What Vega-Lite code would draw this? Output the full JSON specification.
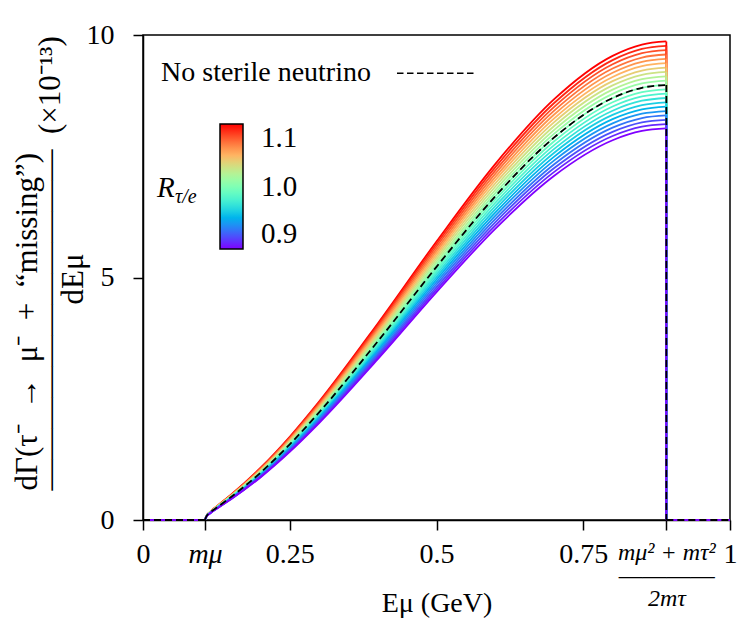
{
  "$schema": "https://vega.github.io/schema/vega-lite/v6.json",
  "width": 587,
  "height": 485,
  "autosize": {"type": "none"},
  "padding": {"left": 143, "top": 35, "right": 18, "bottom": 103},
  "background": "white",
  "config": {
    "font": "Liberation Serif, Times New Roman, serif",
    "view": {"stroke": "black", "strokeWidth": 1.5},
    "axis": {
      "domainColor": "black", "domainWidth": 1.5, "tickColor": "black", "tickWidth": 1.5, "tickSize": 10,
      "labelColor": "black", "labelFont": "Liberation Serif, Times New Roman, serif", "labelFontSize": 28, "grid": false,
      "titleFont": "Liberation Serif, Times New Roman, serif", "titleFontSize": 29, "titleFontWeight": "normal", "titleColor": "black",
      "labelFlush": false, "labelOverlap": false
    }
  },
  "datasets": {
    "curves": [
{"R":1.1,"E":0.10566,"y":0},{"R":1.1,"E":0.108,"y":0.081},{"R":1.1,"E":0.115,"y":0.174},{"R":1.1,"E":0.13,"y":0.326},{"R":1.1,"E":0.15,"y":0.522},{"R":1.1,"E":0.2,"y":1.072},{"R":1.1,"E":0.25,"y":1.716},{"R":1.1,"E":0.3,"y":2.441},{"R":1.1,"E":0.4,"y":4.053},{"R":1.1,"E":0.5,"y":5.742},{"R":1.1,"E":0.6,"y":7.338},{"R":1.1,"E":0.7,"y":8.671},{"R":1.1,"E":0.8,"y":9.57},{"R":1.1,"E":0.85,"y":9.803},{"R":1.1,"E":0.89157,"y":9.867},
{"R":1.09,"E":0.10566,"y":0},{"R":1.09,"E":0.108,"y":0.08},{"R":1.09,"E":0.115,"y":0.173},{"R":1.09,"E":0.13,"y":0.323},{"R":1.09,"E":0.15,"y":0.518},{"R":1.09,"E":0.2,"y":1.062},{"R":1.09,"E":0.25,"y":1.7},{"R":1.09,"E":0.3,"y":2.419},{"R":1.09,"E":0.4,"y":4.016},{"R":1.09,"E":0.5,"y":5.69},{"R":1.09,"E":0.6,"y":7.271},{"R":1.09,"E":0.7,"y":8.592},{"R":1.09,"E":0.8,"y":9.483},{"R":1.09,"E":0.85,"y":9.714},{"R":1.09,"E":0.89157,"y":9.777},
{"R":1.08,"E":0.10566,"y":0},{"R":1.08,"E":0.108,"y":0.079},{"R":1.08,"E":0.115,"y":0.171},{"R":1.08,"E":0.13,"y":0.32},{"R":1.08,"E":0.15,"y":0.513},{"R":1.08,"E":0.2,"y":1.052},{"R":1.08,"E":0.25,"y":1.685},{"R":1.08,"E":0.3,"y":2.396},{"R":1.08,"E":0.4,"y":3.979},{"R":1.08,"E":0.5,"y":5.638},{"R":1.08,"E":0.6,"y":7.205},{"R":1.08,"E":0.7,"y":8.513},{"R":1.08,"E":0.8,"y":9.396},{"R":1.08,"E":0.85,"y":9.625},{"R":1.08,"E":0.89157,"y":9.688},
{"R":1.07,"E":0.10566,"y":0},{"R":1.07,"E":0.108,"y":0.079},{"R":1.07,"E":0.115,"y":0.17},{"R":1.07,"E":0.13,"y":0.317},{"R":1.07,"E":0.15,"y":0.508},{"R":1.07,"E":0.2,"y":1.042},{"R":1.07,"E":0.25,"y":1.669},{"R":1.07,"E":0.3,"y":2.374},{"R":1.07,"E":0.4,"y":3.942},{"R":1.07,"E":0.5,"y":5.585},{"R":1.07,"E":0.6,"y":7.138},{"R":1.07,"E":0.7,"y":8.434},{"R":1.07,"E":0.8,"y":9.309},{"R":1.07,"E":0.85,"y":9.536},{"R":1.07,"E":0.89157,"y":9.598},
{"R":1.06,"E":0.10566,"y":0},{"R":1.06,"E":0.108,"y":0.078},{"R":1.06,"E":0.115,"y":0.168},{"R":1.06,"E":0.13,"y":0.314},{"R":1.06,"E":0.15,"y":0.503},{"R":1.06,"E":0.2,"y":1.033},{"R":1.06,"E":0.25,"y":1.653},{"R":1.06,"E":0.3,"y":2.352},{"R":1.06,"E":0.4,"y":3.906},{"R":1.06,"E":0.5,"y":5.533},{"R":1.06,"E":0.6,"y":7.071},{"R":1.06,"E":0.7,"y":8.356},{"R":1.06,"E":0.8,"y":9.222},{"R":1.06,"E":0.85,"y":9.447},{"R":1.06,"E":0.89157,"y":9.508},
{"R":1.05,"E":0.10566,"y":0},{"R":1.05,"E":0.108,"y":0.077},{"R":1.05,"E":0.115,"y":0.166},{"R":1.05,"E":0.13,"y":0.311},{"R":1.05,"E":0.15,"y":0.499},{"R":1.05,"E":0.2,"y":1.023},{"R":1.05,"E":0.25,"y":1.638},{"R":1.05,"E":0.3,"y":2.33},{"R":1.05,"E":0.4,"y":3.869},{"R":1.05,"E":0.5,"y":5.481},{"R":1.05,"E":0.6,"y":7.005},{"R":1.05,"E":0.7,"y":8.277},{"R":1.05,"E":0.8,"y":9.135},{"R":1.05,"E":0.85,"y":9.358},{"R":1.05,"E":0.89157,"y":9.419},
{"R":1.04,"E":0.10566,"y":0},{"R":1.04,"E":0.108,"y":0.076},{"R":1.04,"E":0.115,"y":0.165},{"R":1.04,"E":0.13,"y":0.308},{"R":1.04,"E":0.15,"y":0.494},{"R":1.04,"E":0.2,"y":1.013},{"R":1.04,"E":0.25,"y":1.622},{"R":1.04,"E":0.3,"y":2.308},{"R":1.04,"E":0.4,"y":3.832},{"R":1.04,"E":0.5,"y":5.429},{"R":1.04,"E":0.6,"y":6.938},{"R":1.04,"E":0.7,"y":8.198},{"R":1.04,"E":0.8,"y":9.048},{"R":1.04,"E":0.85,"y":9.268},{"R":1.04,"E":0.89157,"y":9.329},
{"R":1.03,"E":0.10566,"y":0},{"R":1.03,"E":0.108,"y":0.076},{"R":1.03,"E":0.115,"y":0.163},{"R":1.03,"E":0.13,"y":0.305},{"R":1.03,"E":0.15,"y":0.489},{"R":1.03,"E":0.2,"y":1.003},{"R":1.03,"E":0.25,"y":1.607},{"R":1.03,"E":0.3,"y":2.285},{"R":1.03,"E":0.4,"y":3.795},{"R":1.03,"E":0.5,"y":5.377},{"R":1.03,"E":0.6,"y":6.871},{"R":1.03,"E":0.7,"y":8.119},{"R":1.03,"E":0.8,"y":8.961},{"R":1.03,"E":0.85,"y":9.179},{"R":1.03,"E":0.89157,"y":9.239},
{"R":1.02,"E":0.10566,"y":0},{"R":1.02,"E":0.108,"y":0.075},{"R":1.02,"E":0.115,"y":0.162},{"R":1.02,"E":0.13,"y":0.302},{"R":1.02,"E":0.15,"y":0.484},{"R":1.02,"E":0.2,"y":0.994},{"R":1.02,"E":0.25,"y":1.591},{"R":1.02,"E":0.3,"y":2.263},{"R":1.02,"E":0.4,"y":3.758},{"R":1.02,"E":0.5,"y":5.324},{"R":1.02,"E":0.6,"y":6.804},{"R":1.02,"E":0.7,"y":8.04},{"R":1.02,"E":0.8,"y":8.874},{"R":1.02,"E":0.85,"y":9.09},{"R":1.02,"E":0.89157,"y":9.149},
{"R":1.01,"E":0.10566,"y":0},{"R":1.01,"E":0.108,"y":0.074},{"R":1.01,"E":0.115,"y":0.16},{"R":1.01,"E":0.13,"y":0.299},{"R":1.01,"E":0.15,"y":0.48},{"R":1.01,"E":0.2,"y":0.984},{"R":1.01,"E":0.25,"y":1.575},{"R":1.01,"E":0.3,"y":2.241},{"R":1.01,"E":0.4,"y":3.721},{"R":1.01,"E":0.5,"y":5.272},{"R":1.01,"E":0.6,"y":6.738},{"R":1.01,"E":0.7,"y":7.961},{"R":1.01,"E":0.8,"y":8.787},{"R":1.01,"E":0.85,"y":9.001},{"R":1.01,"E":0.89157,"y":9.06},
{"R":1.0,"E":0.10566,"y":0},{"R":1.0,"E":0.108,"y":0.074},{"R":1.0,"E":0.115,"y":0.159},{"R":1.0,"E":0.13,"y":0.296},{"R":1.0,"E":0.15,"y":0.475},{"R":1.0,"E":0.2,"y":0.974},{"R":1.0,"E":0.25,"y":1.56},{"R":1.0,"E":0.3,"y":2.219},{"R":1.0,"E":0.4,"y":3.684},{"R":1.0,"E":0.5,"y":5.22},{"R":1.0,"E":0.6,"y":6.671},{"R":1.0,"E":0.7,"y":7.883},{"R":1.0,"E":0.8,"y":8.7},{"R":1.0,"E":0.85,"y":8.912},{"R":1.0,"E":0.89157,"y":8.97},
{"R":0.99,"E":0.10566,"y":0},{"R":0.99,"E":0.108,"y":0.073},{"R":0.99,"E":0.115,"y":0.157},{"R":0.99,"E":0.13,"y":0.293},{"R":0.99,"E":0.15,"y":0.47},{"R":0.99,"E":0.2,"y":0.964},{"R":0.99,"E":0.25,"y":1.544},{"R":0.99,"E":0.3,"y":2.197},{"R":0.99,"E":0.4,"y":3.648},{"R":0.99,"E":0.5,"y":5.168},{"R":0.99,"E":0.6,"y":6.604},{"R":0.99,"E":0.7,"y":7.804},{"R":0.99,"E":0.8,"y":8.613},{"R":0.99,"E":0.85,"y":8.823},{"R":0.99,"E":0.89157,"y":8.88},
{"R":0.98,"E":0.10566,"y":0},{"R":0.98,"E":0.108,"y":0.072},{"R":0.98,"E":0.115,"y":0.155},{"R":0.98,"E":0.13,"y":0.29},{"R":0.98,"E":0.15,"y":0.465},{"R":0.98,"E":0.2,"y":0.955},{"R":0.98,"E":0.25,"y":1.529},{"R":0.98,"E":0.3,"y":2.174},{"R":0.98,"E":0.4,"y":3.611},{"R":0.98,"E":0.5,"y":5.116},{"R":0.98,"E":0.6,"y":6.538},{"R":0.98,"E":0.7,"y":7.725},{"R":0.98,"E":0.8,"y":8.526},{"R":0.98,"E":0.85,"y":8.734},{"R":0.98,"E":0.89157,"y":8.791},
{"R":0.97,"E":0.10566,"y":0},{"R":0.97,"E":0.108,"y":0.071},{"R":0.97,"E":0.115,"y":0.154},{"R":0.97,"E":0.13,"y":0.288},{"R":0.97,"E":0.15,"y":0.461},{"R":0.97,"E":0.2,"y":0.945},{"R":0.97,"E":0.25,"y":1.513},{"R":0.97,"E":0.3,"y":2.152},{"R":0.97,"E":0.4,"y":3.574},{"R":0.97,"E":0.5,"y":5.063},{"R":0.97,"E":0.6,"y":6.471},{"R":0.97,"E":0.7,"y":7.646},{"R":0.97,"E":0.8,"y":8.439},{"R":0.97,"E":0.85,"y":8.645},{"R":0.97,"E":0.89157,"y":8.701},
{"R":0.96,"E":0.10566,"y":0},{"R":0.96,"E":0.108,"y":0.071},{"R":0.96,"E":0.115,"y":0.152},{"R":0.96,"E":0.13,"y":0.285},{"R":0.96,"E":0.15,"y":0.456},{"R":0.96,"E":0.2,"y":0.935},{"R":0.96,"E":0.25,"y":1.497},{"R":0.96,"E":0.3,"y":2.13},{"R":0.96,"E":0.4,"y":3.537},{"R":0.96,"E":0.5,"y":5.011},{"R":0.96,"E":0.6,"y":6.404},{"R":0.96,"E":0.7,"y":7.567},{"R":0.96,"E":0.8,"y":8.352},{"R":0.96,"E":0.85,"y":8.555},{"R":0.96,"E":0.89157,"y":8.611},
{"R":0.95,"E":0.10566,"y":0},{"R":0.95,"E":0.108,"y":0.07},{"R":0.95,"E":0.115,"y":0.151},{"R":0.95,"E":0.13,"y":0.282},{"R":0.95,"E":0.15,"y":0.451},{"R":0.95,"E":0.2,"y":0.925},{"R":0.95,"E":0.25,"y":1.482},{"R":0.95,"E":0.3,"y":2.108},{"R":0.95,"E":0.4,"y":3.5},{"R":0.95,"E":0.5,"y":4.959},{"R":0.95,"E":0.6,"y":6.337},{"R":0.95,"E":0.7,"y":7.488},{"R":0.95,"E":0.8,"y":8.265},{"R":0.95,"E":0.85,"y":8.466},{"R":0.95,"E":0.89157,"y":8.522},
{"R":0.94,"E":0.10566,"y":0},{"R":0.94,"E":0.108,"y":0.069},{"R":0.94,"E":0.115,"y":0.149},{"R":0.94,"E":0.13,"y":0.279},{"R":0.94,"E":0.15,"y":0.446},{"R":0.94,"E":0.2,"y":0.916},{"R":0.94,"E":0.25,"y":1.466},{"R":0.94,"E":0.3,"y":2.086},{"R":0.94,"E":0.4,"y":3.463},{"R":0.94,"E":0.5,"y":4.907},{"R":0.94,"E":0.6,"y":6.271},{"R":0.94,"E":0.7,"y":7.41},{"R":0.94,"E":0.8,"y":8.178},{"R":0.94,"E":0.85,"y":8.377},{"R":0.94,"E":0.89157,"y":8.432},
{"R":0.93,"E":0.10566,"y":0},{"R":0.93,"E":0.108,"y":0.068},{"R":0.93,"E":0.115,"y":0.147},{"R":0.93,"E":0.13,"y":0.276},{"R":0.93,"E":0.15,"y":0.442},{"R":0.93,"E":0.2,"y":0.906},{"R":0.93,"E":0.25,"y":1.451},{"R":0.93,"E":0.3,"y":2.064},{"R":0.93,"E":0.4,"y":3.427},{"R":0.93,"E":0.5,"y":4.855},{"R":0.93,"E":0.6,"y":6.204},{"R":0.93,"E":0.7,"y":7.331},{"R":0.93,"E":0.8,"y":8.091},{"R":0.93,"E":0.85,"y":8.288},{"R":0.93,"E":0.89157,"y":8.342},
{"R":0.92,"E":0.10566,"y":0},{"R":0.92,"E":0.108,"y":0.068},{"R":0.92,"E":0.115,"y":0.146},{"R":0.92,"E":0.13,"y":0.273},{"R":0.92,"E":0.15,"y":0.437},{"R":0.92,"E":0.2,"y":0.896},{"R":0.92,"E":0.25,"y":1.435},{"R":0.92,"E":0.3,"y":2.041},{"R":0.92,"E":0.4,"y":3.39},{"R":0.92,"E":0.5,"y":4.802},{"R":0.92,"E":0.6,"y":6.137},{"R":0.92,"E":0.7,"y":7.252},{"R":0.92,"E":0.8,"y":8.004},{"R":0.92,"E":0.85,"y":8.199},{"R":0.92,"E":0.89157,"y":8.252},
{"R":0.91,"E":0.10566,"y":0},{"R":0.91,"E":0.108,"y":0.067},{"R":0.91,"E":0.115,"y":0.144},{"R":0.91,"E":0.13,"y":0.27},{"R":0.91,"E":0.15,"y":0.432},{"R":0.91,"E":0.2,"y":0.887},{"R":0.91,"E":0.25,"y":1.419},{"R":0.91,"E":0.3,"y":2.019},{"R":0.91,"E":0.4,"y":3.353},{"R":0.91,"E":0.5,"y":4.75},{"R":0.91,"E":0.6,"y":6.071},{"R":0.91,"E":0.7,"y":7.173},{"R":0.91,"E":0.8,"y":7.917},{"R":0.91,"E":0.85,"y":8.11},{"R":0.91,"E":0.89157,"y":8.163},
{"R":0.9,"E":0.10566,"y":0},{"R":0.9,"E":0.108,"y":0.066},{"R":0.9,"E":0.115,"y":0.143},{"R":0.9,"E":0.13,"y":0.267},{"R":0.9,"E":0.15,"y":0.427},{"R":0.9,"E":0.2,"y":0.877},{"R":0.9,"E":0.25,"y":1.404},{"R":0.9,"E":0.3,"y":1.997},{"R":0.9,"E":0.4,"y":3.316},{"R":0.9,"E":0.5,"y":4.698},{"R":0.9,"E":0.6,"y":6.004},{"R":0.9,"E":0.7,"y":7.094},{"R":0.9,"E":0.8,"y":7.83},{"R":0.9,"E":0.85,"y":8.021},{"R":0.9,"E":0.89157,"y":8.073}
    ],
    "ends": [
      {"R":1.1,"E":0.89157,"top":9.867},{"R":1.09,"E":0.89157,"top":9.777},{"R":1.08,"E":0.89157,"top":9.688},{"R":1.07,"E":0.89157,"top":9.598},{"R":1.06,"E":0.89157,"top":9.508},{"R":1.05,"E":0.89157,"top":9.419},{"R":1.04,"E":0.89157,"top":9.329},{"R":1.03,"E":0.89157,"top":9.239},{"R":1.02,"E":0.89157,"top":9.149},{"R":1.01,"E":0.89157,"top":9.06},{"R":1.0,"E":0.89157,"top":8.97},{"R":0.99,"E":0.89157,"top":8.88},{"R":0.98,"E":0.89157,"top":8.791},{"R":0.97,"E":0.89157,"top":8.701},{"R":0.96,"E":0.89157,"top":8.611},{"R":0.95,"E":0.89157,"top":8.522},{"R":0.94,"E":0.89157,"top":8.432},{"R":0.93,"E":0.89157,"top":8.342},{"R":0.92,"E":0.89157,"top":8.252},{"R":0.91,"E":0.89157,"top":8.163},{"R":0.9,"E":0.89157,"top":8.073}
    ],
    "flats": [{"a": 0, "b": 0.10566}, {"a": 0.89157, "b": 1}]
  },
  "layer": [
    {
      "data": {"name": "curves"},
      "mark": {"type": "line", "interpolate": "monotone", "strokeWidth": 1.8, "clip": true},
      "encoding": {
        "x": {
          "field": "E", "type": "quantitative",
          "scale": {"domain": [0, 1], "nice": false, "zero": false},
          "axis": {
            "values": [0, 0.10566, 0.25, 0.5, 0.75, 0.89157, 1],
            "labelExpr": "datum.value < 0.01 ? '0' : datum.value > 0.99 ? '1' : (datum.value > 0.1 && datum.value < 0.11) ? 'mμ' : (datum.value > 0.89 && datum.value < 0.9) ? ['mμ² + mτ²', '――――', '2mτ'] : datum.value < 0.3 ? '0.25' : datum.value < 0.6 ? '0.5' : '0.75'",
            "labelFontStyle": {"condition": {"test": "(datum.value > 0.1 && datum.value < 0.11) || (datum.value > 0.89 && datum.value < 0.9)", "value": "italic"}, "value": "normal"},
            "labelFontSize": {"condition": {"test": "datum.value > 0.89 && datum.value < 0.9", "value": 24}, "value": 28},
            "labelBaseline": "top",
            "labelPadding": 10,
            "labelLineHeight": 23,
            "title": "Eμ (GeV)",
            "titleFontSize": 28,
            "titleBaseline": "middle",
            "titleY": 83
          }
        },
        "y": {
          "field": "y", "type": "quantitative",
          "scale": {"domain": [0, 10], "nice": false},
          "axis": {
            "values": [0, 5, 10],
            "format": "d",
            "labelPadding": 19,
            "title": ["dΓ(τ⁻\u2002→\u2002μ⁻\u2002+\u2002“missing”)", "―――――――――――\u2002(×10⁻¹³)", "\u200b\u2003\u2003\u2003\u2003\u2003\u2003dEμ"],
            "titleFontSize": 31,
            "titleAngle": -90,
            "titleBaseline": "middle",
            "titleAlign": "left",
            "titleLineHeight": 23,
            "titleX": -116,
            "titleY": 455
          }
        },
        "color": {
          "field": "R", "type": "quantitative",
          "scale": {
            "type": "linear",
            "domain": [0.9,0.91,0.92,0.93,0.94,0.95,0.96,0.97,0.98,0.99,1.0,1.01,1.02,1.03,1.04,1.05,1.06,1.07,1.08,1.09,1.1],
            "range": ["#8000ff","#6628fe","#4d4ffc","#3374f8","#1a96f3","#00b4ec","#1acee3","#33e3d9","#4df3ce","#66fcc2","#80ffb4","#99fca6","#b3f396","#cce385","#e6ce74","#ffb462","#ff964f","#ff743c","#ff4f28","#ff2814","#ff0000"]
          },
          "legend": {
            "orient": "none", "legendX": 77, "legendY": 89, "title": null,
            "values": [0.9, 1.0, 1.1], "format": ".1f", "direction": "vertical",
            "gradientLength": 125, "gradientThickness": 23, "gradientStrokeColor": "black", "gradientStrokeWidth": 1.5,
            "labelFont": "Liberation Serif, Times New Roman, serif", "labelFontSize": 29, "labelColor": "black", "labelOffset": 18,
            "labelBaseline": "middle", "labelOverlap": false, "padding": 0
          }
        },
        "detail": {"field": "R", "type": "quantitative"}
      }
    },
    {
      "data": {"name": "ends"},
      "mark": {"type": "rule", "strokeWidth": 1.8},
      "encoding": {
        "x": {"field": "E", "type": "quantitative"},
        "y": {"field": "top", "type": "quantitative"},
        "y2": {"datum": 0},
        "color": {"field": "R", "type": "quantitative"}
      }
    },
    {
      "data": {"name": "flats"},
      "mark": {"type": "rule", "strokeWidth": 1.8, "color": "#8000ff"},
      "encoding": {
        "x": {"field": "a", "type": "quantitative"},
        "x2": {"field": "b"},
        "y": {"datum": 0}
      }
    },
    {
      "data": {"name": "curves"},
      "transform": [{"filter": "datum.R == 1"}],
      "mark": {"type": "line", "interpolate": "monotone", "strokeWidth": 1.8, "color": "black", "strokeDash": [7, 4]},
      "encoding": {
        "x": {"field": "E", "type": "quantitative"},
        "y": {"field": "y", "type": "quantitative"}
      }
    },
    {
      "data": {"name": "ends"},
      "transform": [{"filter": "datum.R == 1"}],
      "mark": {"type": "rule", "strokeWidth": 1.8, "color": "black", "strokeDash": [7, 4]},
      "encoding": {
        "x": {"field": "E", "type": "quantitative"},
        "y": {"field": "top", "type": "quantitative"},
        "y2": {"datum": 0}
      }
    },
    {
      "data": {"name": "flats"},
      "mark": {"type": "rule", "strokeWidth": 1.8, "color": "black", "strokeDash": [7, 4]},
      "encoding": {
        "x": {"field": "a", "type": "quantitative"},
        "x2": {"field": "b"},
        "y": {"datum": 0}
      }
    },
    {
      "data": {"values": [{}]},
      "mark": {"type": "text", "text": "No sterile neutrino", "font": "Liberation Serif, Times New Roman, serif", "fontSize": 28, "align": "left", "baseline": "alphabetic", "color": "black"},
      "encoding": {"x": {"datum": 0.0307}, "y": {"datum": 9.05}}
    },
    {
      "data": {"values": [{}]},
      "mark": {"type": "rule", "strokeWidth": 1.5, "color": "black", "strokeDash": [6.5, 3.5]},
      "encoding": {"x": {"datum": 0.4327}, "x2": {"datum": 0.569}, "y": {"datum": 9.21}}
    },
    {
      "data": {"values": [{}]},
      "mark": {"type": "text", "text": "R", "font": "Liberation Serif, Times New Roman, serif", "fontSize": 29, "fontStyle": "italic", "align": "center", "baseline": "alphabetic", "color": "black"},
      "encoding": {"x": {"datum": 0.039}, "y": {"datum": 6.66}}
    },
    {
      "data": {"values": [{}]},
      "mark": {"type": "text", "text": "τ/e", "font": "Liberation Serif, Times New Roman, serif", "fontSize": 20, "fontStyle": "italic", "align": "left", "baseline": "alphabetic", "color": "black"},
      "encoding": {"x": {"datum": 0.0545}, "y": {"datum": 6.54}}
    }
  ]
}
